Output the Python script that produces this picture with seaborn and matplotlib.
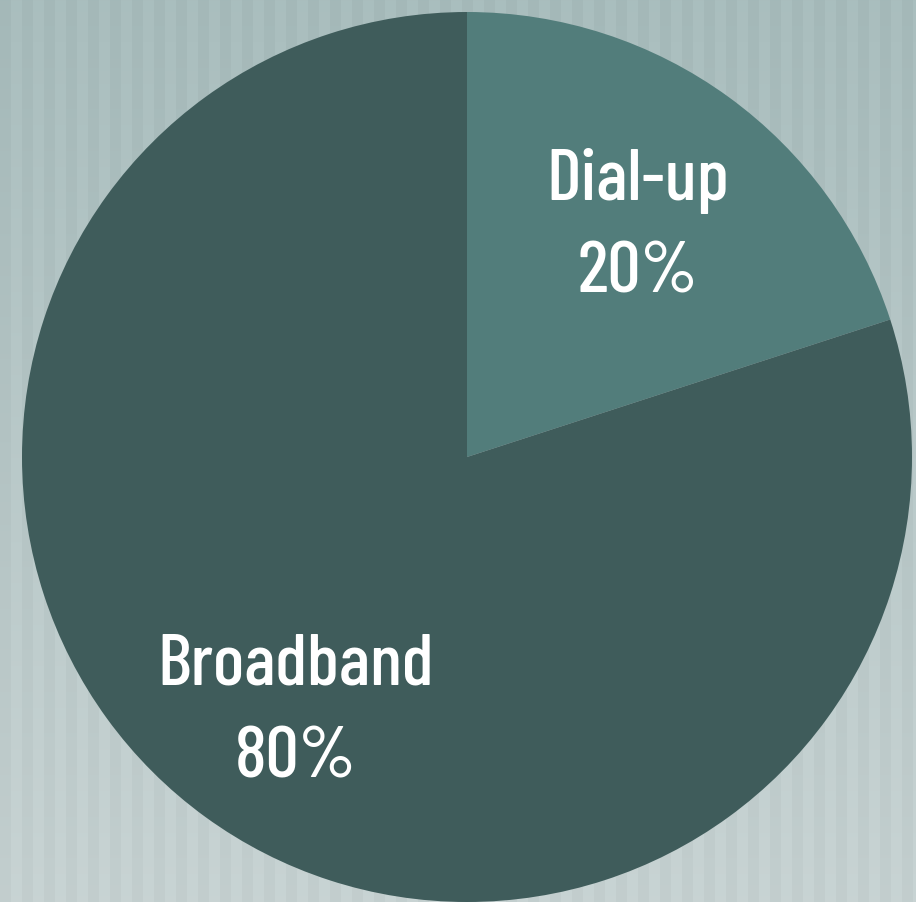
import numpy as np
import matplotlib
matplotlib.use("Agg")
import matplotlib.pyplot as plt
import seaborn as sns

labels = ["Dial-up", "Broadband"]
shares = [20, 80]
colors = ["#527d7b", "#3f5c5b"]

sns.set_theme(style="white")
plt.rcParams['font.family'] = ['Barlow Condensed', 'DejaVu Sans']

W, H = 916, 903
fig = plt.figure(figsize=(W / 100, H / 100), dpi=100)

# striped background with a soft vertical gradient
bg = fig.add_axes([0, 0, 1, 1])
ys = np.linspace(0, 1, H)[:, None, None]
top = np.array([0.665, 0.745, 0.745])
bottom = np.array([0.785, 0.83, 0.83])
base = top + (bottom - top) * ys
stripe = ((np.arange(W) // 11) % 2 == 0).astype(float)[None, :, None] * 0.022
img = np.clip(base - stripe, 0, 1)
bg.imshow(img, aspect="auto", extent=[0, 1, 0, 1], interpolation="none")
bg.set_axis_off()

# pie: center (467, 458) px, radius 445 px
ax = fig.add_axes([22 / W, 0, 890 / W, 890 / H])
ax.pie(shares, colors=colors, startangle=90, counterclock=False,
       radius=1, wedgeprops=dict(linewidth=0))
ax.set_xlim(-1, 1)
ax.set_ylim(-1, 1)
ax.set_aspect("equal")
ax.set_axis_off()

def to_data(px, py):
    return (px - 467) / 445, (458 - py) / 445

# label anchors (center x, baseline of name, baseline of percent) in pixels
anchors = [(638, 200, 293), (296, 685, 778)]
for (cx, b1, b2), lab, val in zip(anchors, labels, shares):
    x, y1 = to_data(cx, b1)
    _, y2 = to_data(cx, b2)
    ax.text(x, y1, lab, ha="center", va="baseline", color="white",
            fontsize=53, fontweight="medium")
    ax.text(x, y2, f"{val}%", ha="center", va="baseline", color="white",
            fontsize=53, fontweight="medium")

fig.savefig("out.png", dpi=100)
